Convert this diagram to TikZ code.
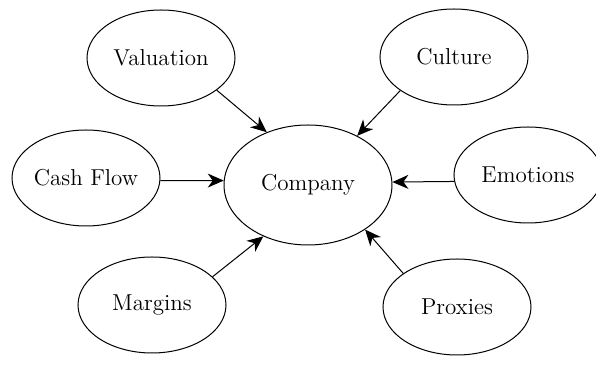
\documentclass[tikz,border=0pt]{standalone}
\usepackage{tikz}
\usetikzlibrary{shapes.geometric}
\usetikzlibrary{arrows.meta}
\tikzstyle{factor} = [
	ellipse,
	draw=black,
	line width=0.5pt,
	minimum width=74pt,
	minimum height=48pt,
	inner sep=0pt,
	font=\fontsize{11.5}{13}\selectfont
]
\tikzstyle{core} = [
	factor,
	minimum width=84pt,
	minimum height=60pt
]
\tikzstyle{link} = [
	line width=0.5pt,
	-{Stealth[length=8pt, width=7pt, inset=2.5pt]}
]

\begin{document}
\begin{tikzpicture}[x=0.5pt, y=-0.5pt]
	\useasboundingbox (0,0) rectangle (596,373);

	%
	% Centre
	\node[core] (company) at (308,185) {Company};

	%
	% Outer factors
	\node[factor] (valuation) at (161,58) {Valuation};
	\node[factor] (culture) at (454,57) {Culture};
	\node[factor] (cashflow) at (86,178) {Cash Flow};
	\node[factor] (emotions) at (528,175) {Emotions};
	\node[factor] (margins) at (152,305) {Margins};
	\node[factor] (proxies) at (457,307) {Proxies};

	%
	% Arrows
	\draw[link] (valuation.-30) -- (company.128);
	\draw[link] (culture.212) -- (company.45);
	\draw[link] (cashflow.-2) -- (company.177);
	\draw[link] (emotions.185) -- (company.2);
	\draw[link] (margins.25) -- (company.229);
	\draw[link] (proxies.148) -- (company.-38);
\end{tikzpicture}
\end{document}
